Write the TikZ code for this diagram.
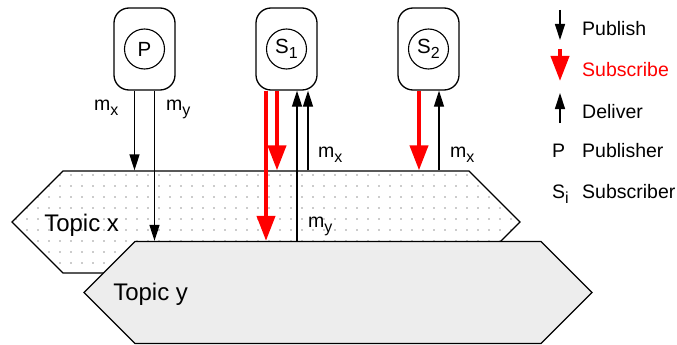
\documentclass[tikz,border=0pt]{standalone}
\usepackage{fontspec}
\setmainfont{Liberation Sans}
\usetikzlibrary{arrows.meta,shapes.symbols,patterns.meta}

\newcommand{\lsub}[1]{\raisebox{-5pt}{\fontsize{16}{16}\selectfont #1}}

\begin{document}
\begin{tikzpicture}[x=1pt, y=-1pt, node distance=142pt,
                    every node/.style={font=\fontsize{19.5}{22}\selectfont},
                    client/.style={draw, line width=1.3pt, rounded corners=15pt, minimum width=61pt, minimum height=82pt},
                    role/.style={circle, draw, line width=1.1pt, minimum size=40pt, inner sep=0pt, font=\fontsize{20.5}{22}\selectfont},
                    topic/.style={signal, signal to=west and east, signal pointer angle=90, draw, line width=1.3pt,
                                  minimum width=508pt, minimum height=102pt, inner sep=0pt},
                    topic name/.style={inner sep=0pt, anchor=base west, font=\fontsize{24}{28}\selectfont},
                    lbl/.style={inner sep=0pt, anchor=base west},
                    pub/.style={-{Triangle[length=16pt,width=10pt]}, line width=1.3pt},
                    subs/.style={red, -{Triangle[length=25pt,width=18pt]}, line width=4pt}]

  \useasboundingbox (0,0) rectangle (677,345);

  % topics
  \node[topic, preaction={fill=white}, pattern={Dots[distance=11pt, radius=0.7pt, xshift=5pt, yshift=5pt]}, pattern color=black!85] (topicx) at (266,222) {};
  \node[topic, fill=black!7] (topicy) at (338,292.5) {};
  \node[topic name] (tx) at ([xshift=33pt,yshift=-9pt]topicx.west) {Topic x};
  \node[topic name] (ty) at ([xshift=30pt,yshift=-7.5pt]topicy.west) {Topic y};

  % clients
  \node[client] (P) at (144.5,49) {};
  \node[client] (S1) [right of=P] {};
  \node[client] (S2) [right of=S1] {};
  \node[role] (p) at (P) {P};
  \node[role] (s1) at (S1) {S\lsub{1}};
  \node[role] (s2) at (S2) {S\lsub{2}};

  % publish
  \draw[pub] ([xshift=-10pt]P.south) -- ([xshift=-10pt]P.south |- topicx.north);
  \draw[pub] ([xshift=10pt]P.south) -- ([xshift=10pt]P.south |- topicy.north);
  \node[lbl] (pmx) at ([xshift=-50.5pt,yshift=-20pt]P.south) {m\lsub{x}};
  \node[lbl] (pmy) at ([xshift=21.5pt,yshift=-20pt]P.south) {m\lsub{y}};

  % subscribe
  \draw[subs] ([xshift=-20.5pt]S1.south) -- ([xshift=-20.5pt]S1.south |- topicy.north);
  \draw[subs] ([xshift=-9.5pt]S1.south) -- ([xshift=-9.5pt]S1.south |- topicx.north);
  \draw[subs] ([xshift=-9.5pt]S2.south) -- ([xshift=-9.5pt]S2.south |- topicx.north);

  % deliver
  \draw[pub] ([xshift=10.5pt]S1.south |- topicy.north) -- ([xshift=10.5pt]S1.south);
  \draw[pub] ([xshift=21.5pt]S1.south |- topicx.north) -- ([xshift=21.5pt]S1.south);
  \draw[pub] ([xshift=10.5pt]S2.south |- topicx.north) -- ([xshift=10.5pt]S2.south);
  \node[lbl] (s1mx) at ([xshift=31.5pt,yshift=-67pt]S1.south) {m\lsub{x}};
  \node[lbl] (s1my) at ([xshift=21.5pt,yshift=-137pt]S1.south) {m\lsub{y}};
  \node[lbl] (s2mx) at ([xshift=21.5pt,yshift=-67pt]S2.south) {m\lsub{x}};

  % legend
  \coordinate (k1) at (560,10);  \coordinate (k2) at (560,40);
  \coordinate (k3) at (560,49);  \coordinate (k4) at (560,81);
  \coordinate (k5) at (560,123); \coordinate (k6) at (560,93);
  \draw[pub] (k1) -- (k2);
  \draw[subs] (k3) -- (k4);
  \draw[pub] (k5) -- (k6);
  \node[lbl] (lpub) at (582,36) {Publish};
  \node[lbl, text=red] (lsubs) at (582,77) {Subscribe};
  \node[lbl] (ldlv) at (582,118) {Deliver};
  \node[lbl] (lp) at (552,157) {P};
  \node[lbl] (lptxt) at (582,157) {Publisher};
  \node[lbl] (ls) at (552,198) {S\lsub{i}};
  \node[lbl] (lstxt) at (582,198) {Subscriber};

\end{tikzpicture}
\end{document}
